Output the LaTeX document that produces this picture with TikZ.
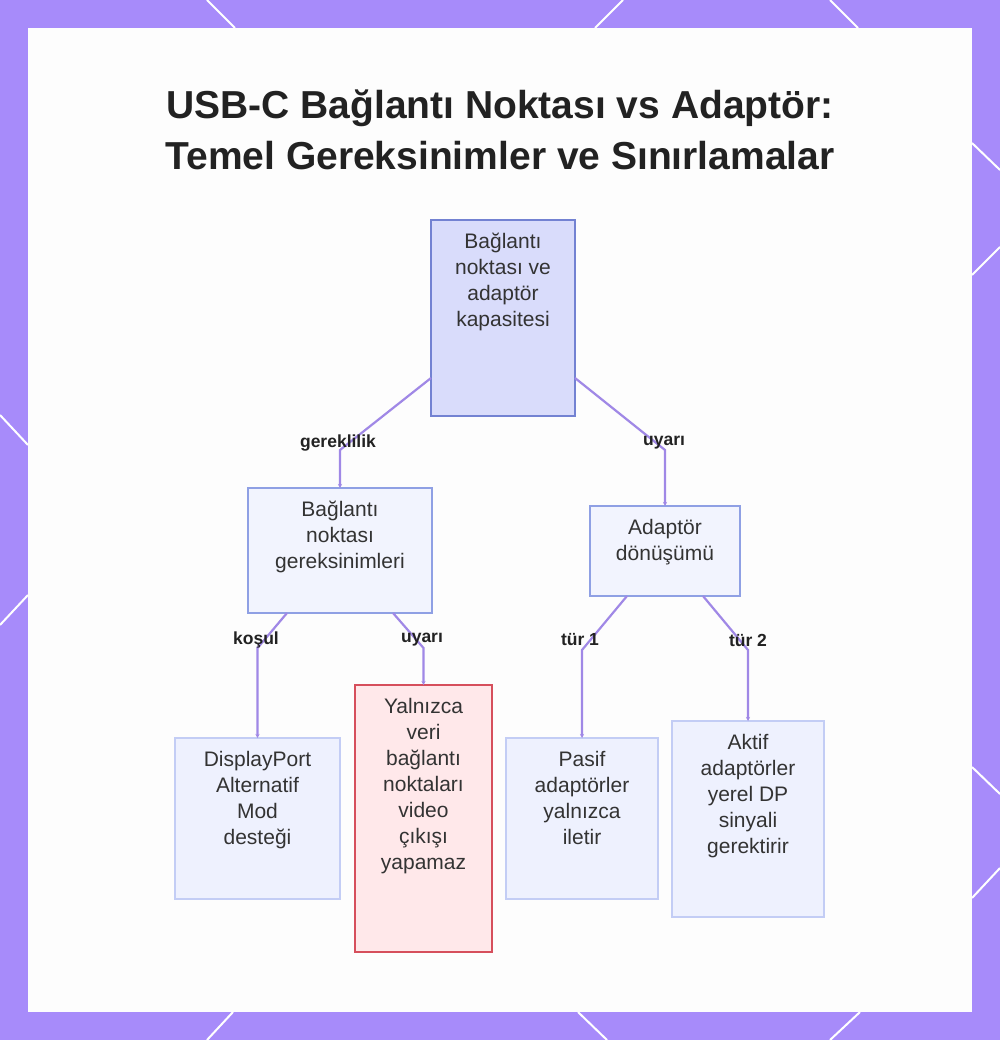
\documentclass[tikz,border=0pt]{standalone}
\usepackage{fontspec}
\setmainfont{Liberation Sans}
\usetikzlibrary{arrows.meta}
\definecolor{framec}{HTML}{A78BFA}
\definecolor{panelc}{HTML}{FDFDFD}
\definecolor{edgec}{HTML}{A088E6}
\definecolor{txt}{HTML}{333333}
\definecolor{lbl}{HTML}{222222}
\definecolor{topfill}{HTML}{D9DCFB}
\definecolor{topdraw}{HTML}{7382D2}
\definecolor{midfill}{HTML}{F2F4FE}
\definecolor{middraw}{HTML}{8FA0E4}
\definecolor{leaffill}{HTML}{EEF1FE}
\definecolor{leafdraw}{HTML}{C3CDF5}
\definecolor{warnfill}{HTML}{FFE8EA}
\definecolor{warndraw}{HTML}{D64F5C}
\newcommand{\bxt}[3]{\parbox[t][#2][t]{#1}{\centering\fontsize{21}{26}\selectfont\rule{0pt}{28.5pt}#3}}
\tikzset{
  boxbase/.style={line width=1.5pt, inner sep=0pt, outer sep=0pt, anchor=north west, text=txt},
  topbox/.style={boxbase, draw=topdraw, fill=topfill},
  midbox/.style={boxbase, draw=middraw, fill=midfill},
  leafbox/.style={boxbase, draw=leafdraw, fill=leaffill},
  warnbox/.style={boxbase, draw=warndraw, fill=warnfill},
  edge/.style={draw=edgec, line width=2.2pt, -{Stealth[length=4pt,width=4pt]}},
  elabel/.style={font=\fontsize{17.5}{20}\selectfont\bfseries, text=lbl, inner sep=0pt},
  titlefont/.style={font=\fontsize{39}{50}\selectfont\bfseries, text=lbl, inner sep=0pt, anchor=base},
  borderline/.style={draw=white, line width=2pt}
}
\begin{document}
\begin{tikzpicture}[x=1pt,y=-1pt]
\useasboundingbox (0,0) rectangle (1000,1040);
\fill[framec] (0,0) rectangle (1000,1040);
\fill[panelc] (28,28) rectangle (972,1012);
% border diagonals
\draw[borderline] (207,0) -- (235,28);
\draw[borderline] (623,0) -- (595,28);
\draw[borderline] (830,0) -- (858,28);
\draw[borderline] (972,143) -- (1000,170);
\draw[borderline] (972,275) -- (1000,247);
\draw[borderline] (972,767) -- (1000,794);
\draw[borderline] (972,898) -- (1000,868);
\draw[borderline] (233,1012) -- (207,1040);
\draw[borderline] (578,1012) -- (607,1040);
\draw[borderline] (860,1012) -- (830,1040);
\draw[borderline] (0,415) -- (28,445);
\draw[borderline] (28,595) -- (0,625);
% title
\node[titlefont] (title1) at (500,119) {USB-C Bağlantı Noktası vs Adaptör:};
\node[titlefont] (title2) at (500,170) {Temel Gereksinimler ve Sınırlamalar};
% nodes
\node[topbox] (top) at (431,220) {\bxt{144pt}{196pt}{Bağlantı\\noktası ve\\adaptör\\kapasitesi}};
\node[midbox] (req) at (248,488) {\bxt{184pt}{125pt}{Bağlantı\\noktası\\gereksinimleri}};
\node[midbox] (conv) at (590,506) {\bxt{150pt}{90pt}{Adaptör\\dönüşümü}};
\node[leafbox] (dp) at (175,738) {\bxt{165pt}{161pt}{DisplayPort\\Alternatif\\Mod\\desteği}};
\node[warnbox] (data) at (355,685) {\bxt{137pt}{267pt}{Yalnızca\\veri\\bağlantı\\noktaları\\video\\çıkışı\\yapamaz}};
\node[leafbox] (pas) at (506,738) {\bxt{152pt}{161pt}{Pasif\\adaptörler\\yalnızca\\iletir}};
\node[leafbox] (act) at (672,721) {\bxt{152pt}{196pt}{Aktif\\adaptörler\\yerel DP\\sinyali\\gerektirir}};
% edges
\draw[edge] ([yshift=38pt]top.south west) -- (req.north |- 0,450) -- (req.north);
\draw[edge] ([yshift=38pt]top.south east) -- (conv.north |- 0,450) -- (conv.north);
\draw[edge] ([xshift=39pt]req.south west) -- (dp.north |- 0,648) -- (dp.north);
\draw[edge] ([xshift=-39pt]req.south east) -- (data.north |- 0,648) -- (data.north);
\draw[edge] ([xshift=37pt]conv.south west) -- (pas.north |- 0,650) -- (pas.north);
\draw[edge] ([xshift=-37pt]conv.south east) -- (act.north |- 0,650) -- (act.north);
% edge labels
\node[elabel] (l1) at (338,443) {gereklilik};
\node[elabel] (l2) at (664,443) {uyarı};
\node[elabel] (l3) at (256,640) {koşul};
\node[elabel] (l4) at (422,640) {uyarı};
\node[elabel] (l5) at (580,640) {tür 1};
\node[elabel] (l6) at (748,640) {tür 2};
\end{tikzpicture}
\end{document}
